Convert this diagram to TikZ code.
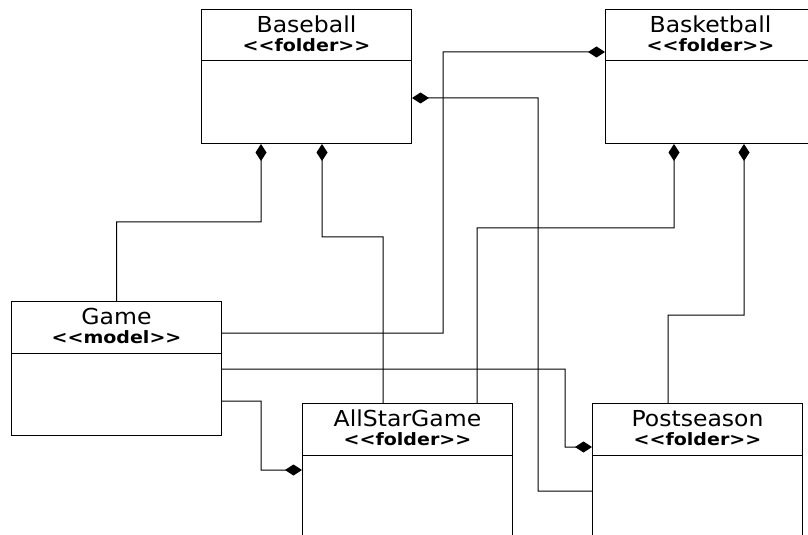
\documentclass[tikz,border=0pt]{standalone}
\usepackage{fontspec}
\newfontfamily\titlefont[FakeStretch=1.07]{DejaVu Sans}
\newfontfamily\sterfont[FakeStretch=1.12]{DejaVu Sans}
\usetikzlibrary{arrows.meta}
\tikzset{
  cls/.style={draw, line width=1bp, rectangle, inner sep=0pt, minimum width=210bp, minimum height=134bp, anchor=north west},
  sep/.style={line width=1bp},
  ttl/.style={anchor=base, inner sep=0pt, font=\titlefont\fontsize{22bp}{26bp}\selectfont},
  ster/.style={anchor=base, inner sep=0pt, font=\sterfont\bfseries\fontsize{17bp}{20bp}\selectfont},
  comp/.style={line width=1bp, -{Diamond[length=17bp,width=11bp]}}
}
\begin{document}
\begin{tikzpicture}[x=1bp, y=-1bp]
\useasboundingbox (0,0) rectangle (808,535);
\clip (0,0) rectangle (808,535);
% classes
\node[cls] (baseball) at (201,9) {};
\node[cls] (basketball) at (605,9) {};
\node[cls] (game) at (11,301) {};
\node[cls] (allstar) at (302,403) {};
\node[cls] (postseason) at (592,403) {};
% separators
\foreach \n in {baseball,basketball,game,allstar,postseason}{
  \draw[sep] ([yshift=-52bp]\n.north west) -- ([yshift=-52bp]\n.north east);
}
% titles
\node[ttl] (t1) at ([yshift=-23.5bp]baseball.north) {Baseball};
\node[ster] (s1) at ([yshift=-42.5bp]baseball.north) {<<folder>>};
\node[ttl] (t2) at ([yshift=-23.5bp]basketball.north) {Basketball};
\node[ster] (s2) at ([yshift=-42.5bp]basketball.north) {<<folder>>};
\node[ttl] (t3) at ([yshift=-23.5bp]game.north) {Game};
\node[ster] (s3) at ([yshift=-42.5bp]game.north) {<<model>>};
\node[ttl] (t4) at ([yshift=-23.5bp]allstar.north) {AllStarGame};
\node[ster] (s4) at ([yshift=-42.5bp]allstar.north) {<<folder>>};
\node[ttl] (t5) at ([yshift=-23.5bp]postseason.north) {Postseason};
\node[ster] (s5) at ([yshift=-42.5bp]postseason.north) {<<folder>>};
% connectors
\draw[comp] (game.north) |- (261,222) -- ([xshift=60bp]baseball.south west);
\draw[comp] ([xshift=81bp]allstar.north west) |- (322,237) -- ([xshift=121bp]baseball.south west);
\draw[comp] ([yshift=-32bp]game.north east) -| (443,52) -- ([yshift=-43bp]basketball.north west);
\draw[comp] ([yshift=-88bp]postseason.north west) -| (538,98) -- ([yshift=-89bp]baseball.north east);
\draw[comp] ([yshift=-68bp]game.north east) -| (565,447) -- ([yshift=-44bp]postseason.north west);
\draw[comp] ([yshift=-100bp]game.north east) -| (261,470) -- ([yshift=-67bp]allstar.north west);
\draw[comp] ([xshift=175bp]allstar.north west) |- (674,228) -- ([xshift=69bp]basketball.south west);
\draw[comp] ([xshift=76bp]postseason.north west) |- (744,315) -- ([xshift=139bp]basketball.south west);
\end{tikzpicture}
\end{document}
